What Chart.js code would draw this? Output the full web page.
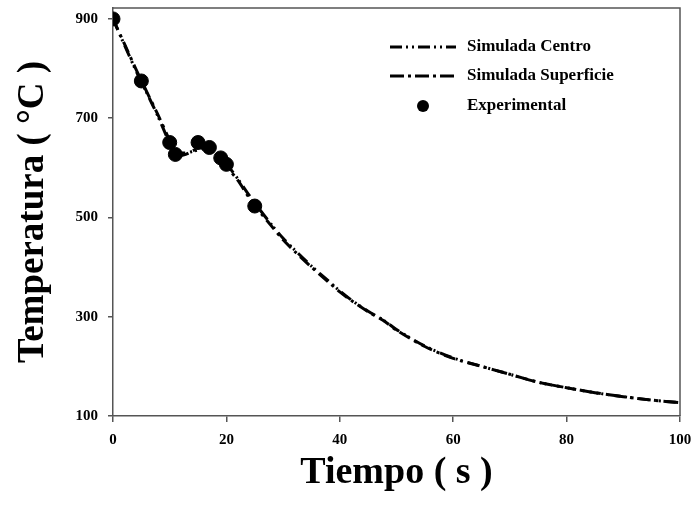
<!DOCTYPE html>
<html lang="es">
<head>
  <meta charset="UTF-8" />
  <title>Temperatura vs Tiempo</title>
  <script src="https://cdn.jsdelivr.net/npm/chart.js"></script>
  <style>
    html, body { margin: 0; padding: 0; background: #fff; }
    #chart { display: block; }
  </style>
</head>
<body>
  <canvas id="chart" width="696" height="516"></canvas>

  <script>
    // simulated curves (s, °C)
    const tiempo     = [0, 2, 4, 6, 8, 10, 11, 12, 13, 14, 15, 16, 17, 18, 19, 20, 22, 24, 26, 28, 30, 32, 35, 38, 40, 42, 45, 48, 50, 55, 60, 65, 70, 75, 80, 85, 90, 95, 100];
    const superficie = [900, 850, 800, 752, 705, 655, 630, 625, 628, 634, 638, 640, 636, 628, 616, 603, 575, 540, 510, 482, 455, 432, 400, 370, 350, 333, 310, 290, 273, 240, 216, 200, 184, 168, 157, 147, 139, 132, 127];
    const centro     = [900, 848, 797, 750, 702, 650, 632, 630, 630, 633, 636, 638, 636, 630, 620, 608, 578, 545, 514, 485, 458, 435, 402, 372, 352, 334, 311, 291, 274, 241, 217, 200, 184, 168, 157, 147, 139, 132, 127];

    // experimental measurements
    const expTiempo = [0, 5, 10, 11, 15, 17, 19, 20, 25];
    const expTemp   = [900, 775, 651, 627, 651, 641, 620, 607, 523];

    const xTicks = [0, 20, 40, 60, 80, 100];
    const yTicks = [100, 300, 500, 700, 900];

    const serif = '"Liberation Serif", "DejaVu Serif", serif';
    const dashCentro = [12, 5, 2, 3, 2, 5];
    const dashSuperficie = [12, 5, 3, 5];

    const toPts = (xs, ys) => xs.map((x, i) => ({ x: x, y: ys[i] }));

    // legend drawn by hand so the dash samples look like the original
    const legendPlugin = {
      id: 'customLegend',
      afterDraw(chart) {
        const ctx = chart.ctx;
        const x0 = 390, x1 = 456, tx = 467;
        const rows = [
          { label: 'Simulada Centro', dash: [12, 4, 2, 4, 2, 4], y: 47 },
          { label: 'Simulada Superficie', dash: [14, 4, 3, 4], y: 76 },
          { label: 'Experimental', dot: true, y: 106 }
        ];
        ctx.save();
        ctx.fillStyle = '#000';
        ctx.strokeStyle = '#000';
        ctx.font = 'bold 17px ' + serif;
        ctx.textBaseline = 'middle';
        rows.forEach(r => {
          if (r.dot) {
            ctx.beginPath();
            ctx.arc((x0 + x1) / 2, r.y, 6, 0, Math.PI * 2);
            ctx.fill();
          } else {
            ctx.lineWidth = 3;
            ctx.setLineDash(r.dash);
            ctx.beginPath();
            ctx.moveTo(x0, r.y);
            ctx.lineTo(x1, r.y);
            ctx.stroke();
            ctx.setLineDash([]);
          }
          ctx.fillText(r.label, tx, r.y);
        });
        ctx.restore();
      }
    };

    new Chart(document.getElementById('chart').getContext('2d'), {
      type: 'scatter',
      data: {
        datasets: [
          {
            label: 'Experimental',
            data: toPts(expTiempo, expTemp),
            showLine: false,
            pointRadius: 7,
            pointBackgroundColor: '#000',
            pointBorderColor: '#000',
            order: 0
          },
          {
            label: 'Simulada Centro',
            data: toPts(tiempo, centro),
            showLine: true,
            borderColor: '#000',
            borderWidth: 3,
            borderDash: dashCentro,
            pointRadius: 0,
            tension: 0.3,
            order: 2
          },
          {
            label: 'Simulada Superficie',
            data: toPts(tiempo, superficie),
            showLine: true,
            borderColor: '#000',
            borderWidth: 3,
            borderDash: dashSuperficie,
            pointRadius: 0,
            tension: 0.3,
            order: 1
          }
        ]
      },
      options: {
        responsive: false,
        animation: false,
        layout: { padding: { top: 6, right: 16, left: 0, bottom: 0 } },
        plugins: {
          legend: { display: false },
          tooltip: { enabled: false }
        },
        scales: {
          x: {
            type: 'linear',
            min: 0,
            max: 100,
            afterBuildTicks: s => { s.ticks = xTicks.map(v => ({ value: v })); },
            afterFit: s => { s.height = 100; s.paddingLeft = 0; s.paddingRight = 0; },
            border: { color: '#555', width: 1.5 },
            grid: { drawOnChartArea: false, tickLength: 6, color: '#555', lineWidth: 1.5 },
            ticks: { color: '#000', padding: 9, maxRotation: 0, font: { family: serif, size: 15, weight: 'bold' } },
            title: {
              display: true,
              text: 'Tiempo ( s )',
              color: '#000',
              font: { family: serif, size: 38, weight: 'bold' },
              padding: { bottom: 20 }
            }
          },
          y: {
            type: 'linear',
            min: 100,
            max: 922,
            afterBuildTicks: s => { s.ticks = yTicks.map(v => ({ value: v })); },
            afterFit: s => { s.width = 113; s.paddingTop = 0; s.paddingBottom = 0; },
            border: { color: '#555', width: 1.5 },
            grid: { drawOnChartArea: false, tickLength: 5, color: '#555', lineWidth: 1.5 },
            ticks: { color: '#000', padding: 10, font: { family: serif, size: 15, weight: 'bold' } },
            title: {
              display: true,
              text: 'Temperatura ( °C )',
              color: '#000',
              font: { family: serif, size: 37, weight: 'bold' },
              padding: { top: 11 }
            }
          }
        }
      },
      plugins: [
        legendPlugin,
        {
          id: 'frame',
          afterDraw(chart) {
            const a = chart.chartArea, ctx = chart.ctx;
            ctx.save();
            ctx.strokeStyle = '#555';
            ctx.lineWidth = 1.5;
            ctx.beginPath();
            ctx.moveTo(a.left, a.top);
            ctx.lineTo(a.right, a.top);
            ctx.lineTo(a.right, a.bottom);
            ctx.stroke();
            ctx.restore();
          }
        }
      ]
    });
  </script>
</body>
</html>
